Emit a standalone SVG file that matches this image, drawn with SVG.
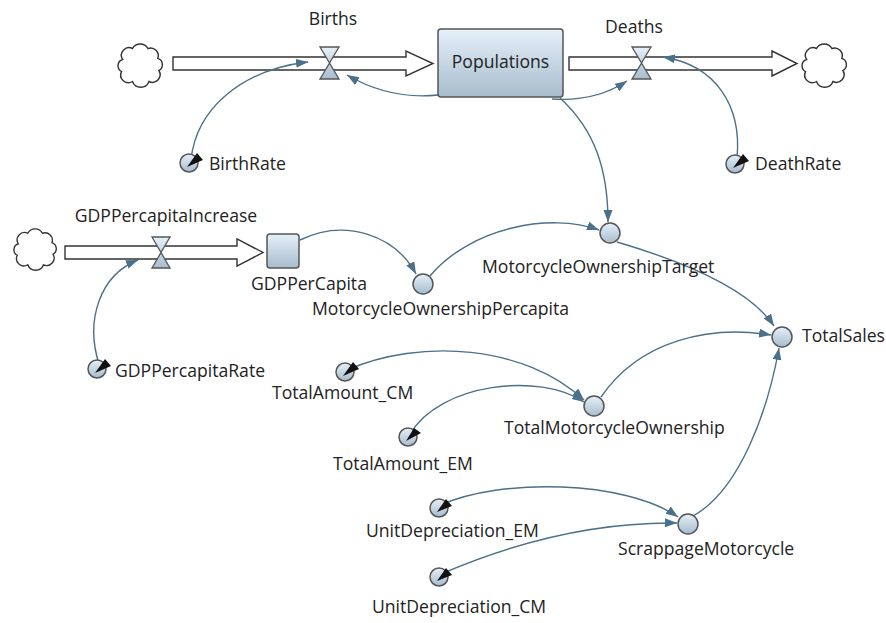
<svg xmlns="http://www.w3.org/2000/svg" width="886" height="623" viewBox="0 0 886 623">
<defs>
<linearGradient id="gb" x1="0" y1="0" x2="0" y2="1"><stop offset="0" stop-color="#e6f0f9"/><stop offset="1" stop-color="#a6bccd"/></linearGradient>
<marker id="ah" markerUnits="userSpaceOnUse" markerWidth="13" markerHeight="10" refX="12" refY="4.5" orient="auto"><path d="M0,0 L12,4.5 L0,9 Z" fill="#4b7089"/></marker>
<path id="cloud" d="M6,15 A7,7 0 0 1 15,5 A8,8 0 0 1 29,5 A7,7 0 0 1 38,14 A6,6 0 0 1 39,25 A7,7 0 0 1 30,35 A8,8 0 0 1 15,35 A7,7 0 0 1 5,26 A6,6 0 0 1 6,15 Z"/>
</defs>
<style>
text{font-family:"Open Sans","Noto Sans","Liberation Sans",sans-serif;font-size:17.6px;fill:#222}
.cl{fill:#fff;stroke:#333;stroke-width:1.3}
.pipe{fill:#fff;stroke:#333;stroke-width:1.4}
.valve{fill:url(#gb);stroke:#555;stroke-width:1.3}
.stock{fill:url(#gb);stroke:#555;stroke-width:1.5}
.var{fill:url(#gb);stroke:#555;stroke-width:1.5}
.wedge{fill:#111}
.con{fill:none;stroke:#4b7089;stroke-width:1.4;marker-end:url(#ah)}
</style>
<rect width="886" height="623" fill="#fff"/>

<g id="clouds">
<use href="#cloud" class="cl" transform="translate(116,43) scale(1.1)"/>
<use href="#cloud" class="cl" transform="translate(800,43) scale(1.1)"/>
<use href="#cloud" class="cl" transform="translate(12,228) scale(1.05)"/>
</g>

<g id="flow-births">
<polygon class="pipe" points="173,57 406,57 406,51 433,63.5 406,76 406,70 173,70"/>
<polygon class="valve" points="320,47 339,47 329.5,63 339,79 320,79 329.5,63"/>
<text x="333" y="25" text-anchor="middle">Births</text>
</g>
<g id="flow-deaths">
<polygon class="pipe" points="569,57 772,57 772,51 797,63.5 772,76 772,70 569,70"/>
<polygon class="valve" points="632,47 651,47 641.5,63 651,79 632,79 641.5,63"/>
<text x="634" y="33" text-anchor="middle">Deaths</text>
</g>
<g id="flow-gdp">
<polygon class="pipe" points="65,246 237,246 237,239 263,252.5 237,266 237,259 65,259"/>
<polygon class="valve" points="152,237 170,237 161,252.5 170,268 152,268 161,252.5"/>
<text x="166" y="222" text-anchor="middle">GDPPercapitaIncrease</text>
</g>

<g id="connectors">
<path class="con" d="M191,160 C196,110 240,70 308,62"/>
<path class="con" d="M438,95 Q390,100 347,75"/>
<path class="con" d="M552,99 Q595,102 627,81"/>
<path class="con" d="M737,158 C742,105 715,65 663,57"/>
<path class="con" d="M560,98 C595,130 608,170 608,222"/>
<path class="con" d="M99,364 C85,320 100,275 138,260"/>
<path class="con" d="M300,240 C345,218 395,235 416,274"/>
<path class="con" d="M430,276 C470,228 550,212 599,230"/>
<path class="con" d="M617,242 C685,262 750,290 774,326"/>
<path class="con" d="M601,397 C640,340 710,325 771,335"/>
<path class="con" d="M693,516 C740,490 768,410 779,348"/>
<path class="con" d="M347,370 C420,338 525,345 584,400"/>
<path class="con" d="M410,434 C440,383 540,372 584,402"/>
<path class="con" d="M441,505 C500,478 625,480 678,517"/>
<path class="con" d="M441,574 C520,540 600,522 677,523"/>
</g>

<g id="Populations">
<rect class="stock" x="438" y="29" width="125" height="68" rx="3"/>
<text x="500.5" y="68" text-anchor="middle">Populations</text>
</g>
<g id="GDPPerCapita">
<rect class="stock" x="267" y="234" width="32" height="34" rx="3"/>
<text x="251" y="290">GDPPerCapita</text>
</g>

<g id="BirthRate">
<circle class="var" cx="189" cy="163" r="9"/>
<polygon class="wedge" points="187,167 197,153 203,160"/>
<text x="209" y="170">BirthRate</text>
</g>
<g id="DeathRate">
<circle class="var" cx="735" cy="164" r="9"/>
<polygon class="wedge" points="733,168 743,154 749,161"/>
<text x="755" y="170">DeathRate</text>
</g>
<g id="GDPPercapitaRate">
<circle class="var" cx="97" cy="369" r="9"/>
<polygon class="wedge" points="95,373 105,359 111,366"/>
<text x="115" y="377">GDPPercapitaRate</text>
</g>
<g id="TotalAmount_CM">
<circle class="var" cx="345" cy="372" r="9"/>
<polygon class="wedge" points="343,376 353,362 359,369"/>
<text x="272" y="399">TotalAmount_CM</text>
</g>
<g id="TotalAmount_EM">
<circle class="var" cx="408" cy="437" r="9"/>
<polygon class="wedge" points="406,441 414,428 421,433"/>
<text x="333" y="470">TotalAmount_EM</text>
</g>
<g id="UnitDepreciation_EM">
<circle class="var" cx="439" cy="508" r="9"/>
<polygon class="wedge" points="437,512 446,499 452,506"/>
<text x="366" y="537">UnitDepreciation_EM</text>
</g>
<g id="UnitDepreciation_CM">
<circle class="var" cx="439" cy="577" r="9"/>
<polygon class="wedge" points="437,581 446,568 452,575"/>
<text x="372" y="613">UnitDepreciation_CM</text>
</g>

<g id="MotorcycleOwnershipPercapita">
<circle class="var" cx="423" cy="284" r="10"/>
<text x="312" y="315">MotorcycleOwnershipPercapita</text>
</g>
<g id="MotorcycleOwnershipTarget">
<circle class="var" cx="610" cy="233" r="10"/>
<text x="482" y="273">MotorcycleOwnershipTarget</text>
</g>
<g id="TotalSales">
<circle class="var" cx="782" cy="337" r="10"/>
<text x="802" y="342">TotalSales</text>
</g>
<g id="TotalMotorcycleOwnership">
<circle class="var" cx="594" cy="406" r="10"/>
<text x="504" y="434">TotalMotorcycleOwnership</text>
</g>
<g id="ScrappageMotorcycle">
<circle class="var" cx="688" cy="524" r="10"/>
<text x="618" y="555">ScrappageMotorcycle</text>
</g>
</svg>
